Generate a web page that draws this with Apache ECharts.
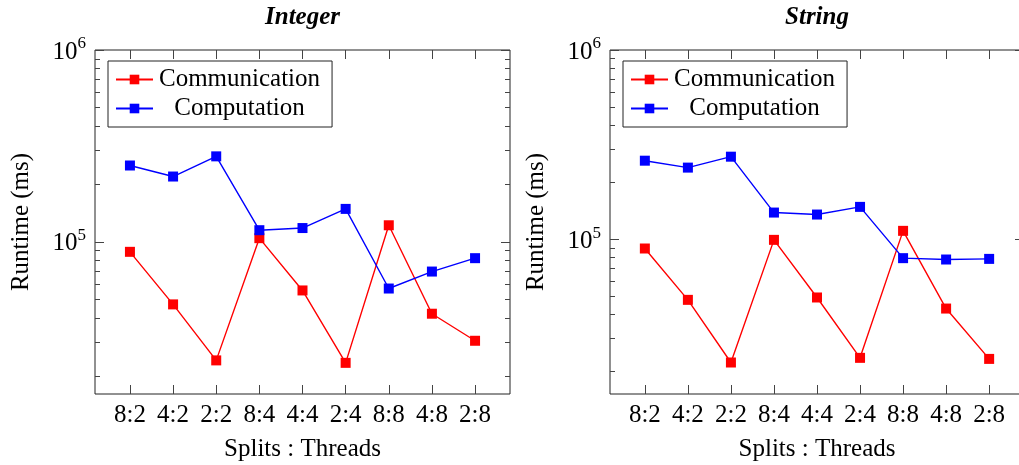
<!DOCTYPE html>
<html>
<head>
<meta charset="utf-8">
<script src="https://cdn.jsdelivr.net/npm/echarts@6/dist/echarts.min.js"></script>
<style>
  html, body { margin: 0; padding: 0; background: #fff; }
  #chart { width: 1019px; height: 465px; }
</style>
</head>
<body>
<div id="chart"></div>
<script>
// splits : threads configurations
const splits = ['8:2', '4:2', '2:2', '8:4', '4:4', '2:4', '8:8', '4:8', '2:8'];

// runtimes in ms
const intComm = [88700, 47200, 24100, 104500, 55800, 23400, 122000, 42200, 30500];
const intComp = [250000, 219000, 279000, 115000, 118000, 148500, 57100, 70000, 82200];
const strComm = [89300, 47800, 22300, 99200, 49200, 23600, 110700, 43000, 23300];
const strComp = [260000, 239000, 273000, 138300, 135000, 148200, 79400, 78100, 78700];

// log axis ticks
const yMajor = [1e5, 1e6];
const yMinor = [20000, 30000, 40000, 50000, 60000, 70000, 80000, 90000,
  200000, 300000, 400000, 500000, 600000, 700000, 800000, 900000];
const yMax = 1e6;
const yMinInt = 16100;
const yMinStr = 15200;

const panels = [
  { title: 'Integer', comm: intComm, comp: intComp, yMin: yMinInt },
  { title: 'String', comm: strComm, comp: strComp, yMin: yMinStr }
];

// layout (px)
const layout = [
  { left: 95, width: 415, legendLeft: 108 },
  { left: 610, width: 414, legendLeft: 623 }
];

const FONT = '"Liberation Serif", "Times New Roman", serif';
const FS = 25;
const frame = '#222';
const tickColor = '#444';
const xPad = 0.81;
const xIdx = splits.map((_, k) => k);

const chart = echarts.init(document.getElementById('chart'));

const option = {
  animation: false,
  grid: [],
  xAxis: [],
  yAxis: [],
  legend: [],
  series: []
};

function decoY(gi, lo, side, vals, len, withLabel) {
  const ax = {
    gridIndex: gi,
    type: 'value',
    min: lo,
    max: Math.log10(yMax),
    position: side,
    axisLine: { show: false, onZero: false },
    splitLine: { show: false },
    axisTick: { inside: true, length: len, customValues: vals, lineStyle: { color: tickColor, width: 1 } },
    axisLabel: { show: false }
  };
  if (withLabel) {
    ax.axisLabel = {
      show: true,
      customValues: vals,
      margin: 9,
      formatter: (v) => '{b|10}{s|' + Math.round(v) + '}',
      rich: {
        b: { fontFamily: FONT, fontSize: FS, color: '#000', padding: [4, 0, 0, 0] },
        s: { fontFamily: FONT, fontSize: 17, color: '#000', verticalAlign: 'top' }
      }
    };
    ax.name = 'Runtime (ms)';
    ax.nameLocation = 'middle';
    ax.nameGap = 61;
    ax.nameTextStyle = { fontFamily: FONT, fontSize: FS, color: '#000' };
  }
  return ax;
}

panels.forEach((p, i) => {
  const L = layout[i];
  option.grid.push({
    left: L.left, top: 50, width: L.width, height: 344,
    show: true, borderColor: frame, borderWidth: 1,
    containLabel: false, outerBoundsMode: 'none'
  });

  const xBase = {
    gridIndex: i,
    type: 'value',
    min: -xPad,
    max: splits.length - 1 + xPad,
    axisLine: { show: false, onZero: false },
    splitLine: { show: false },
    axisTick: { inside: true, length: 9, customValues: xIdx, lineStyle: { color: tickColor, width: 1 } }
  };
  option.xAxis.push(Object.assign({}, xBase, {
    position: 'bottom',
    axisLabel: {
      customValues: xIdx, margin: 9, color: '#000', fontFamily: FONT, fontSize: FS,
      formatter: (v) => splits[Math.round(v)]
    },
    name: 'Splits : Threads',
    nameLocation: 'middle',
    nameGap: 43,
    nameTextStyle: { fontFamily: FONT, fontSize: FS, color: '#000' }
  }));
  option.xAxis.push(Object.assign({}, xBase, {
    position: 'top',
    axisLabel: { show: false },
    name: p.title,
    nameLocation: 'middle',
    nameGap: 20,
    nameTextStyle: { fontFamily: FONT, fontSize: FS, color: '#000', fontStyle: 'italic', fontWeight: 'bold' }
  }));

  const lo = Math.log10(p.yMin);
  const majorExp = yMajor.map((v) => Math.round(Math.log10(v)));
  const minorExp = yMinor.map((v) => Math.log10(v));

  option.yAxis.push({
    gridIndex: i, type: 'log', logBase: 10, min: p.yMin, max: yMax, show: false,
    axisLine: { onZero: false }
  });
  option.yAxis.push(decoY(i, lo, 'left', majorExp, 9, true));
  option.yAxis.push(decoY(i, lo, 'left', minorExp, 5, false));
  option.yAxis.push(decoY(i, lo, 'right', majorExp, 9, false));
  option.yAxis.push(decoY(i, lo, 'right', minorExp, 5, false));

  option.legend.push({
    left: L.legendLeft, top: 61,
    orient: 'vertical',
    data: ['Communication', 'Computation'],
    itemWidth: 37, itemHeight: 12, itemGap: 4,
    padding: [6, 12, 6, 7],
    borderColor: frame, borderWidth: 1, backgroundColor: '#fff',
    selectedMode: false,
    formatter: (n) => '{c|' + n + '}',
    textStyle: {
      fontFamily: FONT, fontSize: FS, color: '#000',
      rich: { c: { width: 163, align: 'center', fontFamily: FONT, fontSize: FS, color: '#000' } }
    }
  });

  const mk = (name, vals, color) => ({
    name: name,
    type: 'line',
    xAxisIndex: 2 * i,
    yAxisIndex: 5 * i,
    data: vals.map((v, k) => [k, v]),
    symbol: 'rect',
    symbolSize: 10,
    itemStyle: { color: color },
    lineStyle: { color: color, width: 1.4 },
    emphasis: { disabled: true }
  });
  option.series.push(mk('Communication', p.comm, '#ff0000'));
  option.series.push(mk('Computation', p.comp, '#0000ff'));
});

chart.setOption(option);
</script>
</body>
</html>
